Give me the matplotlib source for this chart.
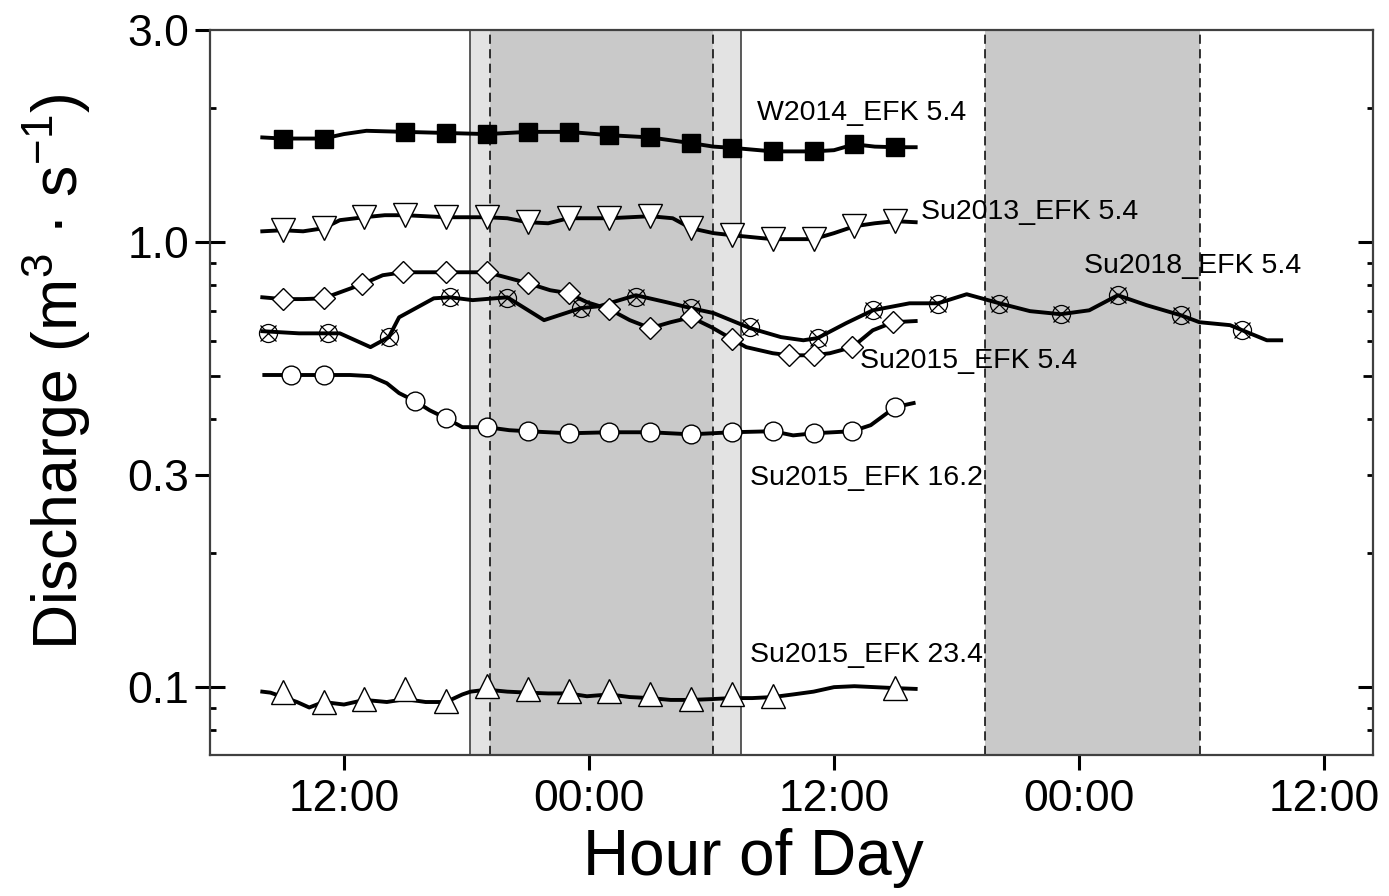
import numpy as np
import matplotlib
matplotlib.use('Agg')
import matplotlib.pyplot as plt
from matplotlib.ticker import FixedLocator, NullFormatter

plt.rcParams['font.family'] = ['Liberation Sans', 'DejaVu Sans']
plt.rcParams['mathtext.fontset'] = 'custom'
plt.rcParams['mathtext.rm'] = 'Liberation Sans'
plt.rcParams['mathtext.it'] = 'Liberation Sans:italic'
plt.rcParams['mathtext.default'] = 'regular'

# time is hours from midnight of the first day (24 = next midnight)
# --- W2014_EFK 5.4 (filled squares)
w14_t = [8.0, 9.0, 11.0, 12.0, 13.1, 15.0, 17.0, 19.0, 21.0, 23.0, 25.0, 27.0, 29.0, 30.1,
         31.0, 33.0, 35.0, 36.0, 37.0, 38.0, 39.0, 40.0]
w14_q = [1.72, 1.71, 1.71, 1.75, 1.78, 1.77, 1.76, 1.75, 1.77, 1.77, 1.74, 1.72, 1.67, 1.64,
         1.63, 1.60, 1.60, 1.61, 1.66, 1.64, 1.635, 1.635]
w14_mt = [9, 11, 15, 17, 19, 21, 23, 25, 27, 29, 31, 33, 35, 37, 39]
w14_mq = [1.71, 1.71, 1.77, 1.76, 1.75, 1.77, 1.77, 1.74, 1.72, 1.67, 1.63, 1.60, 1.60, 1.66, 1.635]

# --- Su2013_EFK 5.4 (down triangles)
s13_t = [8.0, 9.0, 10.0, 11.0, 11.8, 13.0, 14.0, 15.0, 17.0, 19.0, 20.0, 21.0, 22.0, 23.0,
         25.0, 27.0, 28.1, 29.0, 30.1, 31.0, 32.5, 33.0, 35.0, 36.0, 37.0, 38.0, 39.0, 40.0]
s13_q = [1.058, 1.064, 1.058, 1.075, 1.121, 1.138, 1.150, 1.150, 1.138, 1.138, 1.132, 1.109,
         1.103, 1.132, 1.132, 1.144, 1.132, 1.075, 1.048, 1.037, 1.021, 1.016, 1.016, 1.048,
         1.086, 1.103, 1.115, 1.109]
s13_mt = [9, 11, 13, 15, 17, 19, 21, 23, 25, 27, 29, 31, 33, 35, 37, 39]
s13_mq = [1.064, 1.075, 1.138, 1.150, 1.138, 1.138, 1.109, 1.132, 1.132, 1.144, 1.075, 1.037,
          1.016, 1.016, 1.086, 1.115]

# --- Su2015_EFK 5.4 (diamonds)
s15a_t = [8.0, 9.0, 10.0, 11.0, 12.9, 13.9, 14.9, 16.0, 17.0, 18.0, 19.0, 20.1, 21.0, 22.1,
          23.0, 23.9, 25.0, 26.0, 27.0, 28.0, 29.0, 30.0, 31.0, 31.7, 33.0, 33.8, 35.0, 35.8,
          36.9, 37.9, 38.9, 40.0]
s15a_q = [0.752, 0.745, 0.745, 0.748, 0.805, 0.843, 0.856, 0.856, 0.856, 0.856, 0.856, 0.830,
          0.809, 0.780, 0.768, 0.733, 0.707, 0.668, 0.641, 0.661, 0.678, 0.644, 0.606, 0.581,
          0.563, 0.557, 0.557, 0.563, 0.581, 0.634, 0.661, 0.665]
s15a_mt = [9.0, 11.0, 12.9, 14.9, 17.0, 19.0, 21.0, 23.0, 25.0, 27.0, 29.0, 31.0, 33.8, 35.0,
           36.9, 38.9]
s15a_mq = [0.745, 0.748, 0.805, 0.856, 0.856, 0.856, 0.809, 0.768, 0.707, 0.641, 0.678, 0.606,
           0.557, 0.557, 0.581, 0.661]

# --- Su2015_EFK 16.2 (open circles)
s15b_t = [8.1, 9.4, 11.0, 12.3, 13.3, 14.1, 14.7, 15.5, 16.2, 17.0, 17.8, 19.0, 20.1, 21.0,
          23.0, 25.0, 27.0, 29.0, 31.0, 33.0, 34.0, 35.0, 36.9, 37.8, 39.0, 39.9]
s15b_q = [0.503, 0.503, 0.503, 0.503, 0.500, 0.482, 0.458, 0.439, 0.419, 0.402, 0.384, 0.384,
          0.378, 0.376, 0.372, 0.374, 0.374, 0.370, 0.374, 0.376, 0.368, 0.372, 0.376, 0.388,
          0.426, 0.435]
s15b_mt = [9.4, 11.0, 15.5, 17.0, 19.0, 21.0, 23.0, 25.0, 27.0, 29.0, 31.0, 33.0, 35.0, 36.9, 39.0]
s15b_mq = [0.503, 0.503, 0.439, 0.402, 0.384, 0.376, 0.372, 0.374, 0.374, 0.370, 0.374, 0.376,
           0.372, 0.376, 0.426]

# --- Su2015_EFK 23.4 (up triangles)
s15c_t = [8.0, 8.4, 9.7, 10.3, 11.0, 12.0, 13.0, 14.1, 15.0, 16.0, 17.0, 17.8, 18.2, 19.0,
          20.0, 21.0, 22.0, 23.0, 23.9, 25.0, 26.0, 27.0, 28.0, 29.0, 30.0, 31.0, 32.0, 33.0,
          34.0, 35.0, 36.0, 37.0, 38.0, 39.0, 40.0]
s15c_q = [0.0977, 0.0972, 0.0926, 0.0900, 0.0926, 0.0914, 0.0936, 0.0926, 0.0940, 0.0926,
          0.0926, 0.0963, 0.0977, 0.0987, 0.0977, 0.0972, 0.0968, 0.0968, 0.0954, 0.0963,
          0.0950, 0.0945, 0.0936, 0.0936, 0.0940, 0.0945, 0.0945, 0.0950, 0.0963, 0.0977,
          0.1000, 0.1005, 0.1000, 0.0995, 0.0991]
s15c_mt = [9, 11, 13, 15, 17, 19, 21, 23, 25, 27, 29, 31, 33, 39]
s15c_mq = [0.0974, 0.0926, 0.0939, 0.0988, 0.0930, 0.1005, 0.0988, 0.0981, 0.0981, 0.0964,
           0.0939, 0.0963, 0.0954, 0.0995]

# --- Su2018_EFK 5.4 (circle with cross)
s18_t = [8.0, 9.8, 11.8, 13.3, 14.2, 14.7, 16.4, 17.2, 18.3, 20.0, 21.8, 23.6, 24.5, 26.3,
         27.8, 29.0, 30.1, 31.9, 33.4, 34.5, 35.2, 36.6, 37.9, 39.7, 41.1, 42.5, 44.1, 45.6,
         47.1, 48.5, 49.9, 51.3, 53.0, 53.9, 55.4, 56.0, 57.2, 57.9]
s18_q = [0.631, 0.624, 0.624, 0.581, 0.612, 0.678, 0.748, 0.752, 0.741, 0.752, 0.668, 0.711,
         0.718, 0.760, 0.733, 0.711, 0.693, 0.641, 0.612, 0.602, 0.609, 0.658, 0.703, 0.729,
         0.729, 0.764, 0.729, 0.700, 0.689, 0.703, 0.760, 0.722, 0.685, 0.661, 0.651, 0.634,
         0.602, 0.602]
s18_mt = [8.3, 11.2, 14.2, 17.2, 20.0, 23.6, 26.3, 29.0, 31.9, 35.2, 37.9, 41.1, 44.1, 47.1,
          49.9, 53.0, 56.0]
s18_mq = [0.624, 0.624, 0.612, 0.752, 0.748, 0.711, 0.752, 0.711, 0.644, 0.609, 0.703, 0.726,
          0.726, 0.689, 0.760, 0.685, 0.634]

# night periods (hours)
twilight1 = (18.17, 31.44)
dark1 = (19.15, 30.07)
dark2 = (43.4, 53.93)

xtick_pos = [12, 24, 36, 48, 60]
xtick_lab = ['12:00', '00:00', '12:00', '00:00', '12:00']
ytick_pos = [0.1, 0.3, 1.0, 3.0]
ytick_lab = ['0.1', '0.3', '1.0', '3.0']

fig = plt.figure(figsize=(13.89, 8.96), dpi=100)
ax = fig.add_axes([0.1512, 0.1574, 0.8373, 0.8092])

# shading for night
ax.axvspan(*twilight1, color='#e3e3e3', lw=0, zorder=0)
ax.axvspan(*dark1, color='#c9c9c9', lw=0, zorder=0)
ax.axvspan(*dark2, color='#c9c9c9', lw=0, zorder=0)
for x in twilight1:
    ax.axvline(x, color='#404040', lw=1.2, zorder=1)
for x in list(dark1) + list(dark2):
    ax.axvline(x, color='black', lw=1.1, ls=(0, (6, 3.5)), zorder=1)


def draw(t, q, mt, mq, marker, ms, fc):
    ax.plot(t, q, color='black', lw=2.8, zorder=3)
    ax.plot(mt, mq, ls='none', marker=marker, ms=ms, mfc=fc, mec='black', mew=1.0, zorder=4)


draw(w14_t, w14_q, w14_mt, w14_mq, 's', 13, 'black')
draw(s13_t, s13_q, s13_mt, s13_mq, 'v', 17, 'white')
draw(s15b_t, s15b_q, s15b_mt, s15b_mq, 'o', 13.5, 'white')
draw(s15c_t, s15c_q, s15c_mt, s15c_mq, '^', 17, 'white')
ax.plot(s18_t, s18_q, color='black', lw=2.8, zorder=3)
ax.plot(s18_mt, s18_mq, ls='none', marker='o', ms=13, mfc='none', mec='black', mew=0.9, zorder=4)
ax.plot(s18_mt, s18_mq, ls='none', marker='x', ms=12, mec='black', mew=0.9, zorder=4)
draw(s15a_t, s15a_q, s15a_mt, s15a_mq, 'D', 11.5, 'white')

# series labels
lab_kw = dict(fontsize=20.5, ha='left', va='baseline', zorder=5)
ax.text(32.23, 1.88, 'W2014_EFK 5.4', **lab_kw)
ax.text(40.26, 1.126, 'Su2013_EFK 5.4', **lab_kw)
ax.text(48.24, 0.852, 'Su2018_EFK 5.4', **lab_kw)
ax.text(37.27, 0.521, 'Su2015_EFK 5.4', **lab_kw)
ax.text(31.89, 0.284, 'Su2015_EFK 16.2', **lab_kw)
ax.text(31.89, 0.1138, 'Su2015_EFK 23.4', **lab_kw)

# axes
ax.set_yscale('log')
ax.set_xlim(5.44, 62.4)
ax.set_ylim(0.0704, 3.0)
ax.set_xticks(xtick_pos)
ax.set_xticklabels(xtick_lab)
ax.tick_params(axis='x', which='major', direction='out', length=11, width=2.2,
               labelsize=32, pad=6, top=False)

ax.yaxis.set_major_locator(FixedLocator(ytick_pos))
ax.set_yticklabels(ytick_lab)
ax.yaxis.set_minor_locator(FixedLocator([0.08, 0.09, 0.2, 0.4, 0.6, 0.7, 0.8, 0.9, 2.0]))
ax.yaxis.set_minor_formatter(NullFormatter())
ax.tick_params(axis='y', which='major', direction='out', length=11, width=2.2,
               labelsize=32, pad=4, right=False)
ax.tick_params(axis='y', which='minor', direction='in', length=4.5, width=2.0, right=False)

# inner ticks on the left and the right side
sl = ax.secondary_yaxis('left')
sl.set_yticks([0.1, 1.0])
sl.set_yticks([0.5], minor=True)
sl.tick_params(which='major', direction='in', length=11, width=2.2, labelleft=False)
sl.tick_params(which='minor', direction='in', length=7.5, width=2.0, labelleft=False)
sl.spines['left'].set_visible(False)

sr = ax.secondary_yaxis('right')
sr.set_yticks([0.1, 1.0])
sr.set_yticks([0.08, 0.09, 0.2, 0.3, 0.4, 0.6, 0.7, 0.8, 0.9, 2.0], minor=True)
sr.tick_params(which='major', direction='in', length=11, width=2.2, labelright=False)
sr.tick_params(which='minor', direction='in', length=4.5, width=2.0, labelright=False)
sr.spines['right'].set_visible(False)

sr2 = ax.secondary_yaxis('right')
sr2.set_yticks([0.5])
sr2.set_yticks([], minor=True)
sr2.tick_params(which='major', direction='in', length=7.5, width=2.0, labelright=False)
sr2.spines['right'].set_visible(False)

for s in ax.spines.values():
    s.set_color('#404040')
    s.set_linewidth(1.6)

ax.set_xlabel('Hour of Day', fontsize=46)
ax.xaxis.set_label_coords(0.467, -0.101)
ax.set_ylabel('Discharge (m$^{3}$ · s$^{-1}$)', fontsize=45)
ax.yaxis.set_label_coords(-0.101, 0.528)

fig.savefig('out.png', dpi=100)
